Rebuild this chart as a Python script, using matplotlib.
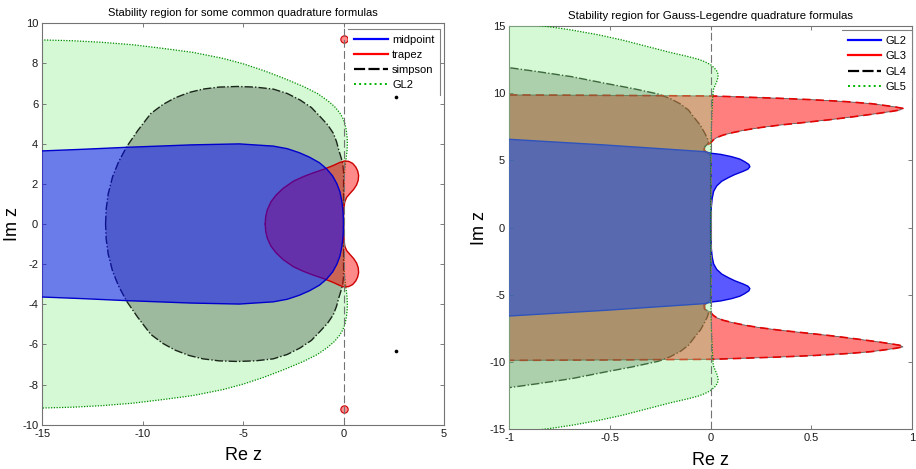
import numpy as np
import matplotlib.pyplot as plt
from matplotlib.lines import Line2D

plt.rcParams['font.family'] = ['Liberation Sans', 'DejaVu Sans']
plt.rcParams['axes.unicode_minus'] = False

# --- left panel: upper halves of the region boundaries (mirrored in Im z) ---
mid_x = [-16.0, -15.0, -13.0, -10.8, -7.6, -5.2, -3.5, -2.8, -2.2, -1.7, -1.2, -0.85,
         -0.55, -0.33, -0.18, -0.08, -0.02, 0.0]
mid_y = [3.6, 3.64, 3.72, 3.82, 3.94, 3.99, 3.88, 3.75, 3.55, 3.33, 3.05, 2.75,
         2.4, 2.0, 1.6, 1.1, 0.55, 0.0]

trap_x = [-3.9, -3.88, -3.8, -3.62, -3.35, -3.0, -2.5, -2.0, -1.5, -1.0, -0.5, -0.2, 0.05,
          0.25, 0.45, 0.6, 0.7, 0.75, 0.73, 0.65, 0.5, 0.32, 0.15, 0.06, 0.02, 0.0, 0.0]
trap_y = [0.0, 0.35, 0.7, 1.1, 1.45, 1.78, 2.13, 2.36, 2.55, 2.72, 2.92, 3.06, 3.14,
          3.12, 3.02, 2.85, 2.65, 2.42, 2.18, 1.95, 1.72, 1.52, 1.32, 1.1, 0.8, 0.4, 0.0]
trap_islands = [(0.0, 9.2), (0.0, -9.2)]

simp_x = [-11.85, -11.82, -11.72, -11.5, -11.2, -10.8, -10.25, -9.6, -9.0, -8.4, -7.7,
          -7.0, -6.2, -5.3, -4.4, -3.5, -2.8, -2.17, -1.6, -1.17, -0.8, -0.51, -0.35,
          -0.24, -0.12, -0.04, 0.0, 0.0]
simp_y = [0.0, 0.75, 1.5, 2.36, 3.1, 3.85, 4.65, 5.5, 5.95, 6.28, 6.55,
          6.72, 6.82, 6.85, 6.82, 6.72, 6.5, 6.18, 5.8, 5.35, 4.95, 4.52, 4.1,
          3.69, 3.3, 3.0, 2.6, 0.0]
simp_islands = [(2.6, 6.35), (2.6, -6.35)]

gl2_x = [-16.0, -15.0, -13.5, -12.0, -10.5, -9.0, -7.5, -6.0, -5.0, -4.0, -3.0, -2.0,
         -1.3, -0.8, -0.45, -0.2, -0.05, 0.07, 0.14, 0.18, 0.19, 0.17, 0.12, 0.07,
         0.03, 0.01, 0.0, 0.0]
gl2_y = [9.2, 9.17, 9.13, 9.05, 8.93, 8.75, 8.55, 8.25, 7.98, 7.65, 7.27, 6.85,
         6.5, 6.15, 5.85, 5.55, 5.3, 5.0, 4.65, 4.3, 4.0, 3.6, 3.2, 2.8,
         2.3, 1.5, 0.5, 0.0]

# --- right panel: Gauss-Legendre formulas ---
g2_x = [-1.2, -1.0, -0.525, -0.028, 0.005, 0.05, 0.104, 0.145, 0.17, 0.19, 0.195, 0.185,
        0.16, 0.12, 0.088, 0.055, 0.03, 0.015, 0.008, 0.003, 0.0, 0.0]
g2_y = [6.75, 6.57, 6.15, 5.65, 5.53, 5.45, 5.28, 5.1, 4.9, 4.7, 4.53, 4.35,
        4.18, 3.95, 3.72, 3.45, 3.1, 2.7, 2.2, 1.5, 0.6, 0.0]

g3_x = [-1.2, -1.0, -0.5, 0.013, 0.15, 0.344, 0.5, 0.676, 0.8, 0.874, 0.92, 0.955, 0.94,
        0.9, 0.834, 0.72, 0.593, 0.47, 0.344, 0.25, 0.179, 0.11, 0.063, 0.03, 0.013,
        0.0, -0.03, -0.032, -0.01, 0.0, 0.0]
g3_y = [9.87, 9.87, 9.84, 9.79, 9.72, 9.62, 9.52, 9.37, 9.22, 9.07, 8.97, 8.87, 8.75,
        8.65, 8.5, 8.27, 8.03, 7.83, 7.63, 7.45, 7.28, 7.07, 6.89, 6.7, 6.52,
        6.3, 6.05, 5.75, 5.5, 5.3, 0.0]

g4_x = [-1.2, -1.0, -0.856, -0.69, -0.525, -0.39, -0.26, -0.2, -0.15, -0.11, -0.085,
        -0.05, -0.028, -0.015, -0.01, -0.03, -0.03, -0.005, 0.0, 0.0]
g4_y = [12.3, 11.9, 11.6, 11.23, 10.74, 10.36, 9.94, 9.6, 9.2, 8.75, 8.25,
        7.6, 7.0, 6.6, 6.3, 6.0, 5.7, 5.5, 5.3, 0.0]

g5_x = [-1.3, -0.87, -0.78, -0.69, -0.56, -0.44, -0.36, -0.28, -0.2, -0.11, -0.06, -0.03,
        0.0, 0.02, 0.033, 0.038, 0.035, 0.03, 0.02, 0.013, 0.008, 0.004, 0.002, 0.0]
g5_y = [15.6, 15.07, 14.9, 14.7, 14.35, 13.96, 13.65, 13.34, 13.03, 12.72, 12.52, 12.35,
        12.12, 11.85, 11.6, 11.35, 11.1, 10.85, 10.5, 10.24, 9.0, 7.5, 6.0, 0.0]


def mirror(xs, ys):
    xs = np.asarray(xs, float)
    ys = np.asarray(ys, float)
    return np.r_[xs, xs[::-1]], np.r_[ys, -ys[::-1]]


def region(ax, xs, ys, fc, alpha, z, ec, ls, lw=1.0, ez=None):
    px, py = mirror(xs, ys)
    ax.fill(px, py, color=fc, alpha=alpha, lw=0, zorder=z)
    ax.plot(np.r_[px, px[0]], np.r_[py, py[0]], color=ec, ls=ls, lw=lw,
            zorder=z + 0.1 if ez is None else ez)


def style(ax, xlim, ylim, xticks, yticks, xtl):
    ax.set_xlim(xlim)
    ax.set_ylim(ylim)
    ax.set_xticks(xticks)
    ax.set_xticklabels(xtl)
    ax.set_yticks(yticks)
    ax.axvline(0, color='0.45', lw=0.8, ls=(0, (7, 3)), zorder=4.5)
    ax.tick_params(direction='in', top=True, right=True, length=3, width=0.6,
                   color='0.4', labelsize=8, pad=3, labelcolor='0.1')
    for s in ax.spines.values():
        s.set_color('0.45')
        s.set_linewidth(0.8)
    ax.set_xlabel('Re z', fontsize=13, labelpad=6)
    ax.set_ylabel('Im z', fontsize=13, labelpad=0.5)


green_fc = (134 / 255, 240 / 255, 134 / 255)
dot_green = (0.0, 0.55, 0.0)
dots = (0, (1, 1.2))
dashdot = (0, (6, 1.5, 1, 1.5))

fig = plt.figure(figsize=(9.16, 4.69), dpi=100)
ax1 = fig.add_axes([0.0462, 0.0945, 0.4385, 0.8559])
ax2 = fig.add_axes([0.556, 0.0846, 0.4396, 0.860])

# left panel
region(ax1, gl2_x, gl2_y, green_fc, 0.35, 1, dot_green, dots, 0.9)
region(ax1, simp_x, simp_y, 'black', 0.25, 2, (0.1, 0.15, 0.1), dashdot, 1.0)
region(ax1, trap_x, trap_y, 'red', 0.46, 3, (0.8, 0, 0), '-', 1.0)
region(ax1, mid_x, mid_y, 'blue', 0.5, 4, (0, 0, 0.8), '-', 1.0)
ax1.scatter([p[0] for p in trap_islands], [p[1] for p in trap_islands], s=28,
            color=(1, 0.55, 0.55), edgecolor=(0.8, 0, 0), lw=0.8, zorder=3.2)
ax1.scatter([p[0] for p in simp_islands], [p[1] for p in simp_islands], s=7,
            color='black', lw=0, zorder=3.2)
style(ax1, (-15, 5), (-10, 10), [-15, -10, -5, 0, 5], range(-10, 11, 2),
      ['-15', '-10', '-5', '0', '5'])
ax1.set_title('Stability region for some common quadrature formulas', fontsize=8, pad=5)

# right panel
region(ax2, g3_x, g3_y, 'red', 0.5, 1, '0.35', '-', 0.6)
px, py = mirror(g3_x, g3_y)
ax2.plot(np.r_[px, px[0]], np.r_[py, py[0]], color=(0.9, 0, 0), ls=(0, (5, 3)), lw=1.2, zorder=1.2)
region(ax2, g4_x, g4_y, 'black', 0.25, 2, (0.1, 0.15, 0.1), dashdot, 1.0, ez=0.9)
region(ax2, g2_x, g2_y, 'blue', 0.65, 3, (0, 0, 0.85), '-', 1.0)
region(ax2, g5_x, g5_y, green_fc, 0.35, 4, dot_green, dots, 0.9)
style(ax2, (-1, 1), (-15, 15), [-1, -0.5, 0, 0.5, 1], range(-15, 16, 5),
      ['-1', '-0.5', '0', '0.5', '1'])
ax2.set_title('Stability region for Gauss-Legendre quadrature formulas', fontsize=8.2, pad=5)

# legends
h1 = [Line2D([], [], color='blue', lw=1.6),
      Line2D([], [], color='red', lw=1.6),
      Line2D([], [], color='black', lw=1.6, ls=(0, (5, 1.5))),
      Line2D([], [], color=(0, 0.7, 0), lw=1.4, ls=':')]
legs = []
legs.append(ax1.legend(h1, ['midpoint', 'trapez', 'simpson', 'GL2'], loc='upper right',
                       bbox_to_anchor=(0.99, 0.985), borderaxespad=0, fontsize=8,
                       handlelength=3.1, handletextpad=0.35, labelspacing=0.45,
                       borderpad=0.5, fancybox=False, framealpha=1))
legs.append(ax2.legend(h1, ['GL2', 'GL3', 'GL4', 'GL5'], loc='upper right',
                       bbox_to_anchor=(0.999, 0.99), borderaxespad=0, fontsize=8,
                       handlelength=3.0, handletextpad=0.35, labelspacing=0.5,
                       borderpad=0.5, fancybox=False, framealpha=1))
for lg in legs:
    lg.get_frame().set_edgecolor('none')

fig.canvas.draw()
for lg in legs:
    bb = lg.get_window_extent().transformed(fig.transFigure.inverted())
    fig.add_artist(Line2D([bb.x0, bb.x1, bb.x1], [bb.y1, bb.y1, bb.y0], color='0.5', lw=0.8))

plt.savefig('out.png', dpi=100)
